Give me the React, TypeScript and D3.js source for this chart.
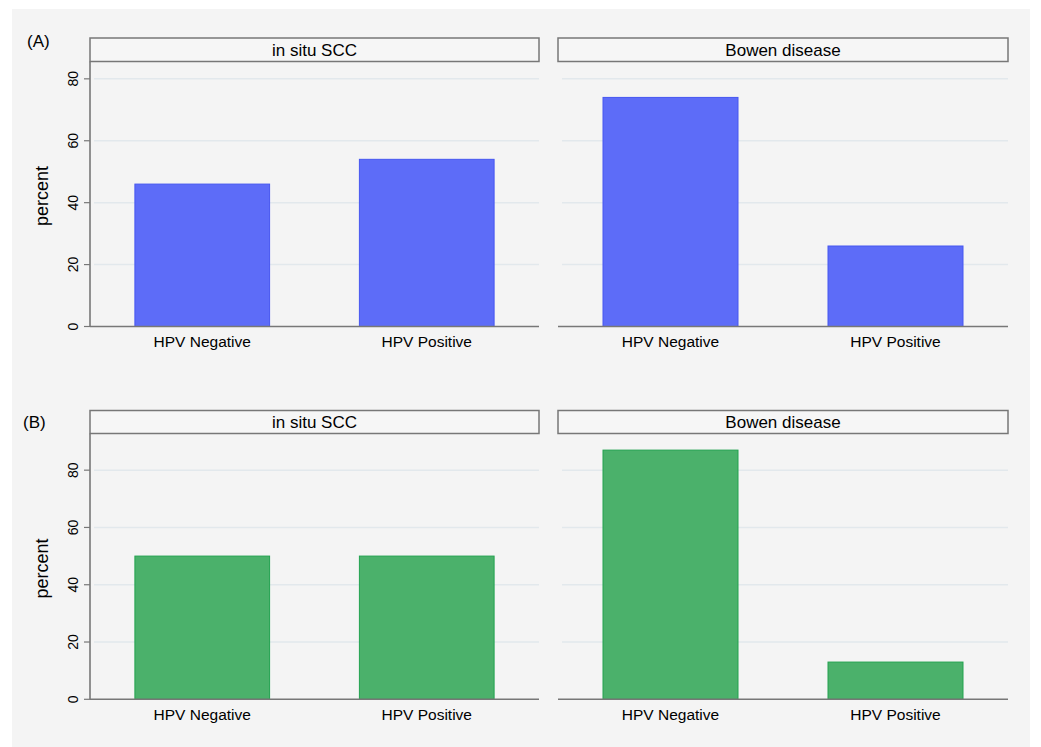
import React from "react";
import * as d3 from "d3";

const panelTitles = ["in situ SCC", "Bowen disease"];
const categories = ["HPV Negative", "HPV Positive"];
const rowLabels = ["(A)", "(B)"];
// percent values per row, per panel
const rowA_scc = [46, 54];
const rowA_bowen = [74, 26];
const rowB_scc = [50, 50];
const rowB_bowen = [87, 13];
const yTicks = [0, 20, 40, 60, 80];

const W = 1041;
const H = 747;
const FONT = "'Liberation Sans', Arial, Helvetica, sans-serif";

const rows = [
  { label: rowLabels[0], values: [rowA_scc, rowA_bowen], headerTop: 38, headerBottom: 61.5, base: 326.5, yMax: 85.6, fill: "#5d6cf8", stroke: "#4656f0", labelX: 27, labelY: 47 },
  { label: rowLabels[1], values: [rowB_scc, rowB_bowen], headerTop: 410.5, headerBottom: 433.5, base: 699.3, yMax: 92.8, fill: "#4bb16b", stroke: "#22a24f", labelX: 23, labelY: 428 },
];

const panelX: [number, number][] = [
  [90, 539],
  [558, 1008],
];

export default function App() {
  return (
    <svg width={W} height={H} style={{ position: "absolute", left: 0, top: 0 }} fontFamily={FONT}>
      <rect x={0} y={0} width={W} height={H} fill="#ffffff" />
      <rect x={12} y={9} width={1018} height={740} fill="#f4f4f4" />
      {rows.map((row, ri) => {
        const y = d3.scaleLinear().domain([0, row.yMax]).range([row.base, row.headerBottom]);
        const midY = (row.base + row.headerBottom) / 2;
        return (
          <g key={ri}>
            <text x={row.labelX} y={row.labelY} fontSize={17} fill="#000">
              {row.label}
            </text>
            <text
              transform={`translate(47.5,${midY + 2}) rotate(-90)`}
              textAnchor="middle"
              fontSize={18}
              fill="#000"
            >
              percent
            </text>
            {yTicks.map((t) => (
              <g key={t}>
                <line x1={84} x2={90} y1={y(t)} y2={y(t)} stroke="#777" strokeWidth={1.2} />
                <text
                  transform={`translate(77.5,${y(t)}) rotate(-90)`}
                  textAnchor="middle"
                  fontSize={14}
                  fill="#000"
                >
                  {t}
                </text>
              </g>
            ))}
            {panelX.map(([x0, x1], pi) => {
              const x = d3
                .scaleBand<string>()
                .domain(categories)
                .range([x0, x1])
                .paddingInner(0.4)
                .paddingOuter(0.2);
              const vals = row.values[pi];
              return (
                <g key={pi}>
                  {yTicks
                    .filter((t) => t > 0)
                    .map((t) => (
                      <line key={t} x1={x0 + 4} x2={x1} y1={y(t)} y2={y(t)} stroke="#e2e8ec" strokeWidth={1.5} />
                    ))}
                  {categories.map((c, ci) => (
                    <rect
                      key={c}
                      x={x(c)!}
                      y={y(vals[ci])}
                      width={x.bandwidth()}
                      height={row.base - y(vals[ci])}
                      fill={row.fill}
                      stroke={row.stroke}
                      strokeWidth={1}
                    />
                  ))}
                  {categories.map((c) => (
                    <text
                      key={c}
                      x={x(c)! + x.bandwidth() / 2}
                      y={row.base + 20.5}
                      textAnchor="middle"
                      fontSize={15.5}
                      fill="#000"
                    >
                      {c}
                    </text>
                  ))}
                  <line x1={x0} x2={x1} y1={row.base} y2={row.base} stroke="#777" strokeWidth={1.6} />
                  <rect
                    x={x0}
                    y={row.headerTop}
                    width={x1 - x0}
                    height={row.headerBottom - row.headerTop}
                    fill="#f6f6f6"
                    stroke="#777"
                    strokeWidth={1.5}
                  />
                  <text
                    x={(x0 + x1) / 2}
                    y={(row.headerTop + row.headerBottom) / 2 + 6}
                    textAnchor="middle"
                    fontSize={17}
                    fill="#000"
                  >
                    {panelTitles[pi]}
                  </text>
                </g>
              );
            })}
            <line x1={90} x2={90} y1={row.headerBottom} y2={row.base} stroke="#777" strokeWidth={1.6} />
          </g>
        );
      })}
    </svg>
  );
}
